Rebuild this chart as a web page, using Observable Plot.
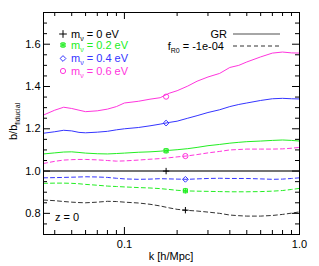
<!DOCTYPE html>
<html><head><meta charset="utf-8">
<script src="https://cdn.jsdelivr.net/npm/d3@7"></script>
<script src="https://cdn.jsdelivr.net/npm/@observablehq/plot@0.6"></script>
<style>html,body{margin:0;padding:0;background:#fff;}</style>
</head><body><div id="chart"></div>
<script>
// ---- data ----
const kValues = [0.0345,0.04,0.045,0.05,0.055,0.06,0.07,0.08,0.09,0.1,0.12,0.14,0.16,0.18,0.2,0.23,0.26,0.3,0.35,0.4,0.45,0.5,0.6,0.7,0.8,0.9,1.0];
const grM0 = 1.0;
const grM02 = [1.081,1.086,1.09,1.091,1.088,1.085,1.082,1.081,1.083,1.085,1.089,1.091,1.094,1.098,1.101,1.106,1.112,1.12,1.126,1.132,1.136,1.139,1.142,1.145,1.147,1.145,1.142];
const grM04 = [1.179,1.186,1.193,1.19,1.183,1.181,1.184,1.188,1.195,1.2,1.206,1.214,1.222,1.23,1.236,1.25,1.262,1.277,1.29,1.305,1.315,1.322,1.334,1.342,1.344,1.342,1.341];
const grM06 = [1.265,1.288,1.302,1.296,1.288,1.281,1.285,1.293,1.305,1.322,1.33,1.34,1.347,1.368,1.38,1.402,1.425,1.445,1.462,1.49,1.5,1.516,1.54,1.558,1.563,1.559,1.558];
const frM0 = [0.863,0.86,0.856,0.853,0.851,0.85,0.853,0.857,0.856,0.853,0.849,0.843,0.835,0.826,0.819,0.814,0.811,0.806,0.8,0.792,0.789,0.787,0.787,0.79,0.795,0.801,0.807];
const frM02 = [0.942,0.943,0.943,0.942,0.94,0.937,0.933,0.929,0.927,0.925,0.922,0.92,0.917,0.913,0.909,0.906,0.905,0.904,0.903,0.902,0.902,0.902,0.903,0.905,0.908,0.913,0.918];
const frM04 = [0.968,0.969,0.97,0.971,0.972,0.973,0.972,0.97,0.966,0.963,0.961,0.962,0.964,0.963,0.962,0.961,0.963,0.965,0.966,0.965,0.965,0.965,0.963,0.961,0.962,0.965,0.968];
const frM06 = [1.036,1.046,1.052,1.054,1.055,1.055,1.053,1.05,1.047,1.048,1.052,1.056,1.059,1.063,1.067,1.072,1.078,1.086,1.093,1.1,1.102,1.104,1.104,1.104,1.105,1.108,1.112];
const markerKGR = 0.173;
const markerKFR = 0.223;
const grMarkers = [1.0, 1.096, 1.227, 1.352];
const frMarkers = [0.815, 0.907, 0.961, 1.071];
const massLabels = ["0", "0.2", "0.4", "0.6"];
const yMajor = [0.8,1.0,1.2,1.4,1.6];
const yMinor = [0.75,0.85,0.9,0.95,1.05,1.1,1.15,1.25,1.3,1.35,1.45,1.5,1.55,1.65,1.7];
const xMajor = [0.1,1.0];
const xMinor = [0.04,0.05,0.06,0.07,0.08,0.09,0.2,0.3,0.4,0.5,0.6,0.7,0.8,0.9];
const fR0Label = "-1e-04";

// ---- style ----
const FONT = "'Liberation Sans', Arial, Helvetica, sans-serif";
const colors = ["#000000", "#22ee22", "#3535ff", "#ff35dd"];
const symbols = ["plus", "square2", "diamond2", "circle"];
const W = 319, H = 266, ML = 43, MR = 20, MT = 12, MB = 32;
const FW = W - ML - MR, FH = H - MT - MB;
const dash = "4,3";

const grSeries = [null, grM02, grM04, grM06];
const frSeries = [frM0, frM02, frM04, frM06];

function annotations() {
  const g = d3.create("svg:g").attr("font-family", FONT).attr("font-size", 11).attr("text-anchor", "start");
  const rowsY = [34, 45, 58.5, 71];
  massLabels.forEach((m, i) => {
    const y = rowsY[i];
    const sym = g.append("g").attr("transform", `translate(63,${y})`)
      .attr("fill", "none").attr("stroke", colors[i]).attr("stroke-width", 1);
    const size = Math.PI * 2.6 * 2.6;
    if (i === 1) {
      sym.append("path").attr("d", d3.symbol(d3.symbolSquare2, size)());
      sym.append("path").attr("d", d3.symbol(d3.symbolAsterisk, size)());
    } else {
      const t = [d3.symbolPlus, null, d3.symbolDiamond2, d3.symbolCircle][i];
      sym.append("path").attr("d", d3.symbol(t, size)());
    }
    const t = g.append("text").attr("x", 71).attr("y", y).attr("dy", "0.35em").attr("fill", colors[i]).attr("text-anchor", "start");
    t.append("tspan").text("m");
    t.append("tspan").attr("font-size", 7).attr("dy", 3).text("\u03bd");
    t.append("tspan").attr("dy", -3).text(" = " + m + " eV");
  });
  // right legend
  g.append("text").attr("x", 227).attr("y", 34).attr("dy", "0.35em").attr("text-anchor", "end").text("GR");
  g.append("line").attr("x1", 233).attr("x2", 280).attr("y1", 34).attr("y2", 34)
    .attr("stroke", "#888").attr("stroke-width", 1.5);
  const f = g.append("text").attr("x", 224).attr("y", 46).attr("dy", "0.35em").attr("text-anchor", "end");
  f.append("tspan").text("f");
  f.append("tspan").attr("font-size", 7).attr("dy", 3).text("R0");
  f.append("tspan").attr("dy", -3).text(" = " + fR0Label);
  g.append("line").attr("x1", 233).attr("x2", 280).attr("y1", 46).attr("y2", 46)
    .attr("stroke", "#333").attr("stroke-width", 1).attr("stroke-dasharray", dash);
  // z = 0
  g.append("text").attr("x", 55).attr("y", 217).attr("dy", "0.35em").attr("text-anchor", "start").text("z = 0");
  // axis titles
  const yt = g.append("text").attr("transform", "translate(13,140) rotate(-90)").attr("dy", "0.35em").attr("text-anchor", "start");
  yt.append("tspan").text("b/b");
  yt.append("tspan").attr("font-size", 7).attr("dy", 3).text("fiducial");
  g.append("text").attr("x", 171).attr("y", 256).attr("dy", "0.35em").attr("text-anchor", "middle").text("k [h/Mpc]");
  return g.node();
}

const marks = [];
// lines
marks.push(Plot.ruleY([grM0], {stroke: "#444", strokeWidth: 1.5}));
grSeries.forEach((s, i) => { if (s) marks.push(Plot.line(s, {x: kValues, y: d => d, stroke: colors[i], strokeWidth: 1})); });
frSeries.forEach((s, i) => marks.push(Plot.line(s, {x: kValues, y: d => d, stroke: i === 0 ? "#333" : colors[i], strokeWidth: 1, strokeDasharray: dash})));
// markers
[grMarkers, frMarkers].forEach((arr, j) => {
  const k = j === 0 ? markerKGR : markerKFR;
  arr.forEach((v, i) => {
    marks.push(Plot.dot([v], {x: () => k, y: d => d, symbol: symbols[i], stroke: colors[i], r: i === 0 ? 2.2 : 2.6, strokeWidth: 1}));
    if (i === 1) marks.push(Plot.dot([v], {x: () => k, y: d => d, symbol: "asterisk", stroke: colors[i], r: 2.6, strokeWidth: 1}));
  });
});
// ticks (inward)
marks.push(
  Plot.tickY(yMajor, {y: d => d, insetRight: FW - 7, stroke: "#000"}),
  Plot.tickY(yMajor, {y: d => d, insetLeft: FW - 7, stroke: "#000"}),
  Plot.tickY(yMinor, {y: d => d, insetRight: FW - 4, stroke: "#000"}),
  Plot.tickY(yMinor, {y: d => d, insetLeft: FW - 4, stroke: "#000"}),
  Plot.tickX(xMajor, {x: d => d, insetTop: FH - 7, stroke: "#000"}),
  Plot.tickX(xMajor, {x: d => d, insetBottom: FH - 7, stroke: "#000"}),
  Plot.tickX(xMinor, {x: d => d, insetTop: FH - 4, stroke: "#000"}),
  Plot.tickX(xMinor, {x: d => d, insetBottom: FH - 4, stroke: "#000"}),
  Plot.frame({stroke: "#000"}),
  Plot.axisX({ticks: xMajor, tickSize: 0, tickPadding: 6, tickFormat: d3.format(".1f"), label: null, fontSize: 11}),
  Plot.axisY({ticks: yMajor, tickSize: 0, tickPadding: 3, tickFormat: d3.format(".1f"), label: null, fontSize: 11}),
  annotations
);

const chart = Plot.plot({
  width: W, height: H,
  marginLeft: ML, marginRight: MR, marginTop: MT, marginBottom: MB,
  style: {fontFamily: FONT, fontSize: "11px", background: "#fff", color: "#000"},
  x: {type: "log", domain: [0.0345, 1.0]},
  y: {domain: [0.7, 1.75]},
  marks
});
document.getElementById("chart").appendChild(chart);
</script>
</body></html>
